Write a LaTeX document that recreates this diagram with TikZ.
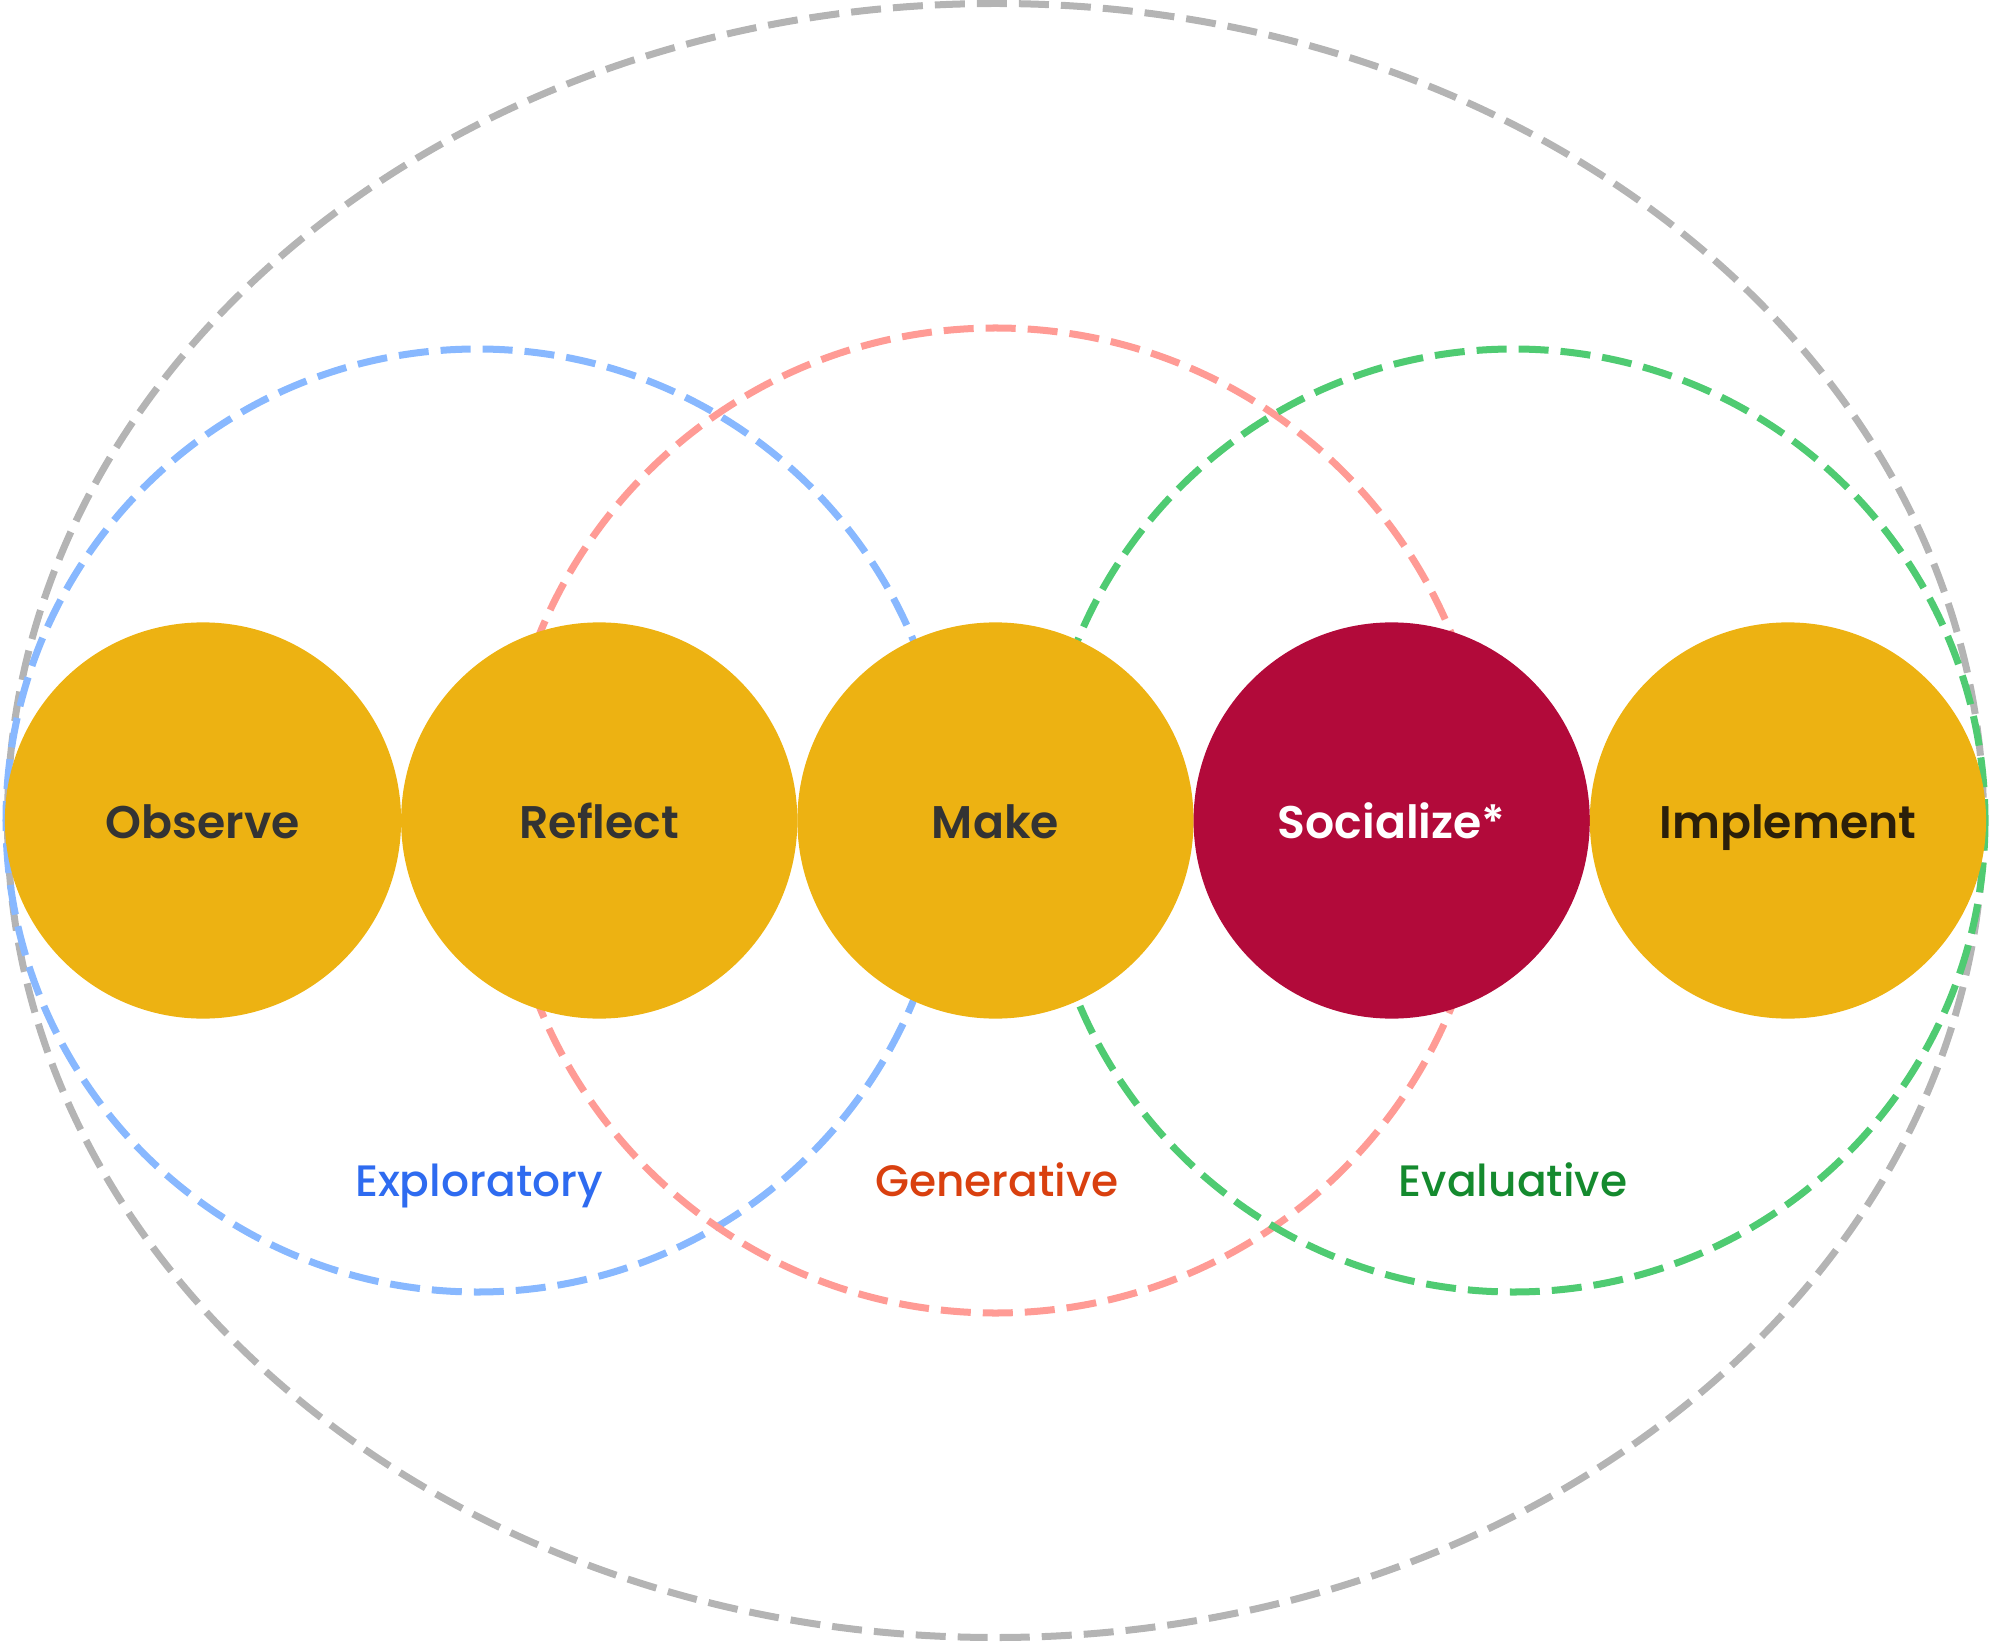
\documentclass[tikz,border=0pt]{standalone}
\usepackage{fontspec}
\setmainfont{Poppins}[BoldFont={Poppins SemiBold}]
\newfontfamily\modefont{Poppins Medium}
\usetikzlibrary{positioning}
\definecolor{stagegold}{HTML}{EDB212}
\definecolor{stagered}{HTML}{B20A3A}
\definecolor{stagetext}{HTML}{333333}
\definecolor{stagedark}{HTML}{2B1F0A}
\definecolor{ringgray}{HTML}{B4B4B4}
\definecolor{ringblue}{HTML}{88B8FF}
\definecolor{ringred}{HTML}{FF9B95}
\definecolor{ringgreen}{HTML}{4FCB72}
\definecolor{modeblue}{HTML}{2E6BF0}
\definecolor{modered}{HTML}{D9400F}
\definecolor{modegreen}{HTML}{148A2E}

\begin{document}
\begin{tikzpicture}[
    x=0.01cm, y=-0.01cm,
    node distance=0cm,
    stage/.style={circle, fill=stagegold, minimum size=3.96cm, inner sep=0pt, outer sep=0pt, text height=10.5pt, text depth=0pt, text=stagetext, font=\fontsize{13}{16}\selectfont\bfseries},
    ring/.style={line width=0.07cm, dash pattern=on 0.3cm off 0.12cm},
    mode/.style={anchor=base, font=\modefont\fontsize{12.5}{15}\selectfont}
]
\useasboundingbox (0,0) rectangle (1991,1643);
\draw[ring, draw=ringgray] (995.5,820.5) ellipse [x radius=988, y radius=817];
\draw[ring, draw=ringblue] (477.5,820.5) circle [radius=471.5];
\draw[ring, draw=ringred] (995.5,820.5) circle [radius=492.5];
\draw[ring, draw=ringgreen] (1513.5,820.5) circle [radius=471.5];
\node[stage] (observe) at (203,820.5) {Observe};
\node[stage, right=of observe] (reflect) {Reflect};
\node[stage, right=of reflect] (make) {Make};
\node[stage, right=of make, fill=stagered, text=white] (socialize) {Socialize*};
\node[stage, right=of socialize, text=stagedark] (implement) {Implement};
\node[mode, text=modeblue] (exploratory) at (479,1196) {Exploratory};
\node[mode, text=modered] (generative) at (997,1196) {Generative};
\node[mode, text=modegreen] (evaluative) at (1513,1196) {Evaluative};
\end{tikzpicture}
\end{document}
